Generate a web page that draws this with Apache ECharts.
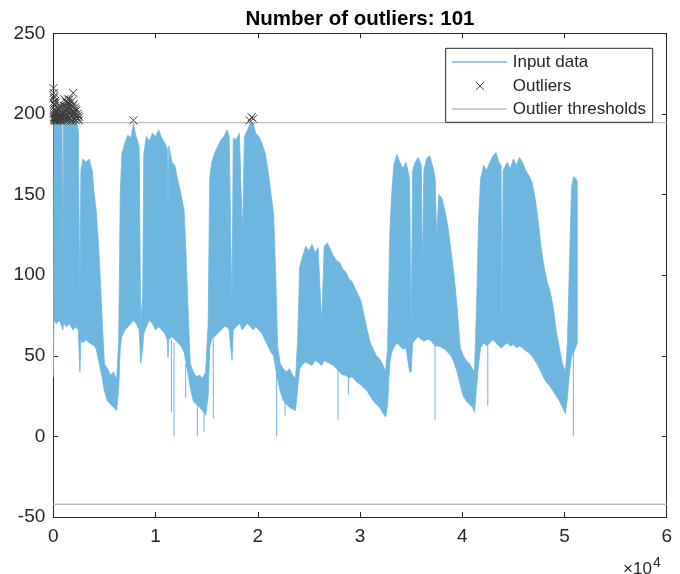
<!DOCTYPE html>
<html><head><meta charset="utf-8">
<script src="https://cdn.jsdelivr.net/npm/echarts/dist/echarts.min.js"></script>
<style>html,body{margin:0;padding:0;background:#fff}#c{width:680px;height:574px}</style>
</head><body><div id="c"></div><script>
// ---- data ----
const titleText = 'Number of outliers: 101';
const xTickLabels = ['0','1','2','3','4','5','6']; // ×10^4
const yTickValues = [-50, 0, 50, 100, 150, 200, 250];
// envelope of the dense input signal: sample index, upper and lower edge
const envX  = [0,60,300,600,850,930,1000,1300,1600,1900,2200,2450,2600,2700,2900,3200,3500,3800,4000,4200,4500,4800,5000,5300,5600,5900,6200,6400,6550,6700,7000,7300,7600,7830,8100,8400,8550,8750,8850,9100,9400,9700,10000,10300,10600,10900,11150,11220,11300,11600,11900,12200,12500,12800,13000,13200,13400,13700,14000,14300,14600,14900,15150,15300,15500,15800,16100,16400,16700,17000,17200,17480,17600,17900,18200,18500,18700,19000,19300,19550,19800,20100,20400,20700,21000,21300,21550,21750,21950,22200,22500,22800,23100,23400,23700,23900,24100,24400,24700,25000,25300,25600,25900,26250,26500,26800,27100,27400,27700,28000,28300,28600,28900,29200,29500,29800,30100,30400,30700,31000,31300,31600,31900,32200,32500,32700,32900,33100,33300,33600,33900,34200,34500,34850,35000,35150,35400,35700,36000,36100,36250,36500,36800,37100,37350,37500,37700,38000,38300,38600,38900,39200,39500,39800,40100,40400,40700,41000,41200,41400,41600,41800,42100,42400,42700,43000,43300,43600,43800,43900,44000,44400,44700,45000,45300,45600,45900,46200,46500,46800,47100,47400,47700,48000,48300,48600,48900,49200,49500,49800,50100,50300,50500,50700,50900,51100,51250];
const envHi = [45,196,197,196,195,110,196,197,196,197,196,190,80,165,172,170,172,165,150,140,110,70,45,42,38,40,35,60,150,175,182,187,185,194,186,180,68,90,175,186,183,188,186,190,185,182,178,138,180,170,168,158,150,140,110,76,45,40,37,38,36,40,70,160,170,176,180,184,186,190,186,76,185,184,188,125,186,190,195,194,188,186,182,176,165,150,138,100,55,45,42,40,42,38,36,60,105,112,118,115,119,114,117,70,118,120,116,112,109,108,104,102,98,96,92,88,84,75,66,58,54,50,48,45,40,55,123,150,168,175,170,166,170,160,62,165,170,173,168,101,165,172,174,168,160,122,150,148,140,130,115,100,80,55,50,47,45,42,40,80,134,160,168,165,170,174,176,170,168,60,165,170,166,172,168,173,170,165,162,158,149,135,118,105,96,90,80,65,55,45,40,60,110,155,161,160,158];
const envLo = [37,72,70,72,68,66,70,68,70,66,68,66,40,60,58,60,58,57,56,54,45,36,28,22,20,18,16,30,55,62,66,68,70,72,70,66,45,55,64,68,72,70,66,68,66,64,60,49,60,62,60,58,56,52,45,38,30,22,20,18,16,13,25,55,60,62,64,66,68,68,66,47,66,68,70,66,68,70,68,66,68,66,64,60,56,52,50,42,35,28,22,20,18,17,16,30,42,45,46,45,44,47,46,44,47,46,45,44,42,40,38,38,36,37,35,33,32,30,28,25,22,20,18,15,12,20,45,52,55,58,56,54,55,40,40,58,60,62,60,60,59,60,60,58,56,56,56,55,54,52,50,46,40,32,25,22,20,18,15,30,45,55,58,56,58,60,58,56,55,55,56,58,56,57,55,56,55,53,52,50,47,44,40,36,33,31,28,25,22,18,14,25,40,50,52,55,58];
// isolated downward spikes: sample index, top and bottom of the spike
const dipX      = [11550,11810,12950,14090,14740,15650,21850,22670,27850,28860,37340,42500,50870];
const dipTop    = [60,58,45,20,16,60,40,22,42,36,56,56,52];
const dipBottom = [15,0,24,0,3,11,0,13,10,26,10,19,0];
// detected outliers
const outX = [20,40,60,80,100,30,50,90,120,150,170,200,230,260,280,310,340,370,400,430,460,490,520,550,580,610,640,670,700,730,760,790,820,10,70,110,140,180,250,300,450,600,690,780,840,
  1000,1050,1100,1150,1200,1250,1300,1350,1400,1450,1500,1550,1600,1650,1700,1750,1800,1850,1900,1950,2000,2050,2100,2150,2200,2250,2300,2350,2400,2450,2500,2550,1020,1080,1130,1180,1230,1280,1330,1380,1430,1480,1530,1580,1630,1680,1730,1780,1880,1980,2080,2180,
  7830,19200,19400,19550];
const outY = [216,213,210,206,203,200,198,197,201,205,199,197,202,207,198,196,200,204,197,199,196,201,198,203,197,200,196,199,197,202,198,196,200,207,211,196,198,208,196,201,203,196,205,201,197,
  198,202,196,205,199,203,207,197,201,209,204,198,206,200,196,203,208,199,205,213,201,197,204,199,196,202,198,200,197,199,196,198,205,209,201,197,208,200,204,199,196,207,202,209,197,204,199,201,196,206,200,203,
  196,196,198,197];
const upperThreshold = 194.6;
const lowerThreshold = -42.1;
const legendLabels = ['Input data', 'Outliers', 'Outlier thresholds'];

// ---- styles ----
const FONT = "'Liberation Sans', Arial, Helvetica, sans-serif";
const BLUE = '#6db6e0';
const AXIS = '#262626';
const GRAY = '#bdbdbd';

const chart = echarts.init(document.getElementById('c'), null, {renderer: 'canvas'});

function axisCommon(showLabel) {
  return {
    axisLine: {show: true, onZero: false, lineStyle: {color: AXIS, width: 1}},
    axisTick: {show: true, inside: true, length: 5, lineStyle: {color: AXIS, width: 1}},
    splitLine: {show: false},
    axisLabel: {show: showLabel, color: AXIS, fontSize: 19, fontFamily: FONT}
  };
}
const xBase = {type: 'value', min: 0, max: 60000, interval: 10000};
const yBase = {type: 'value', min: -50, max: 250, interval: 50};

const option = {
  animation: false,
  backgroundColor: '#fff',
  grid: {left: 53.3, right: 13.3, top: 33.3, bottom: 57, containLabel: false},
  xAxis: [
    Object.assign({}, xBase, axisCommon(true), {position: 'bottom',
      axisLabel: {show: true, color: AXIS, fontSize: 19, fontFamily: FONT, margin: 10,
        formatter: v => xTickLabels[Math.round(v / 10000)]}}),
    Object.assign({}, xBase, axisCommon(false), {position: 'top'})
  ],
  yAxis: [
    Object.assign({}, yBase, axisCommon(true), {position: 'left',
      axisLabel: {show: true, color: AXIS, fontSize: 19, fontFamily: FONT, margin: 8,
        formatter: v => yTickValues.includes(v) ? String(v) : ''}}),
    Object.assign({}, yBase, axisCommon(false), {position: 'right'})
  ],
  series: [
    {
      type: 'custom', name: legendLabels[0], silent: true, clip: true, z: 2,
      data: [[envX[0], envLo[0]]],
      encode: {x: 0, y: 1},
      renderItem: function (params, api) {
        const pts = [];
        for (let i = 0; i < envX.length; i++) pts.push(api.coord([envX[i], envHi[i]]));
        for (let i = envX.length - 1; i >= 0; i--) pts.push(api.coord([envX[i], envLo[i]]));
        return {type: 'polygon', shape: {points: pts}, style: {fill: BLUE, stroke: BLUE, lineWidth: 0.8}};
      }
    },
    {
      type: 'custom', silent: true, clip: true, z: 2,
      data: dipX.map((x, i) => [x, dipTop[i], dipBottom[i]]),
      encode: {x: 0, y: [1, 2]},
      renderItem: function (params, api) {
        const a = api.coord([api.value(0), api.value(1)]);
        const b = api.coord([api.value(0), api.value(2)]);
        return {type: 'line', shape: {x1: a[0], y1: a[1], x2: b[0], y2: b[1]},
          style: {stroke: BLUE, lineWidth: 1}};
      }
    },
    {
      type: 'line', name: legendLabels[2], symbol: 'none', silent: true, z: 3,
      lineStyle: {color: GRAY, width: 1.3},
      data: [[0, upperThreshold], [60000, upperThreshold]]
    },
    {
      type: 'line', symbol: 'none', silent: true, z: 3,
      lineStyle: {color: GRAY, width: 1.3},
      data: [[0, lowerThreshold], [60000, lowerThreshold]]
    },
    {
      type: 'custom', name: legendLabels[1], silent: true, clip: false, z: 4,
      data: outX.map((x, i) => [x, outY[i]]),
      encode: {x: 0, y: 1},
      renderItem: function (params, api) {
        const c = api.coord([api.value(0), api.value(1)]);
        const h = 4;
        return {type: 'group', children: [
          {type: 'line', shape: {x1: c[0]-h, y1: c[1]-h, x2: c[0]+h, y2: c[1]+h}, style: {stroke: '#3c3c3c', lineWidth: 1}},
          {type: 'line', shape: {x1: c[0]-h, y1: c[1]+h, x2: c[0]+h, y2: c[1]-h}, style: {stroke: '#3c3c3c', lineWidth: 1}}
        ]};
      }
    }
  ],
  graphic: [
    {type: 'text', z: 100, style: {text: titleText, x: 360, y: 19, textAlign: 'center', textVerticalAlign: 'middle',
      font: "bold 20.5px " + FONT, fill: '#000'}},
    // legend box
    {type: 'rect', z: 100, shape: {x: 445.7, y: 48.3, width: 207, height: 74},
      style: {fill: '#fff', stroke: AXIS, lineWidth: 1}},
    {type: 'line', z: 101, shape: {x1: 452, y1: 62, x2: 506.7, y2: 62}, style: {stroke: BLUE, lineWidth: 1.3}},
    {type: 'text', z: 101, style: {text: legendLabels[0], x: 512.7, y: 62, textVerticalAlign: 'middle', font: "17px " + FONT, fill: AXIS}},
    {type: 'line', z: 101, shape: {x1: 476, y1: 82, x2: 484, y2: 90}, style: {stroke: '#555', lineWidth: 1}},
    {type: 'line', z: 101, shape: {x1: 476, y1: 90, x2: 484, y2: 82}, style: {stroke: '#555', lineWidth: 1}},
    {type: 'text', z: 101, style: {text: legendLabels[1], x: 512.7, y: 86, textVerticalAlign: 'middle', font: "17px " + FONT, fill: AXIS}},
    {type: 'line', z: 101, shape: {x1: 452, y1: 109, x2: 506.7, y2: 109}, style: {stroke: GRAY, lineWidth: 1.3}},
    {type: 'text', z: 101, style: {text: legendLabels[2], x: 512.7, y: 109, textVerticalAlign: 'middle', font: "17px " + FONT, fill: AXIS}},
    // exponent label
    {type: 'text', z: 100, style: {text: '×10', x: 623, y: 578, textVerticalAlign: 'bottom', font: "17px " + FONT, fill: AXIS}},
    {type: 'text', z: 100, style: {text: '4', x: 653, y: 570, textVerticalAlign: 'bottom', font: "14px " + FONT, fill: AXIS}}
  ]
};
chart.setOption(option);
</script></body></html>
